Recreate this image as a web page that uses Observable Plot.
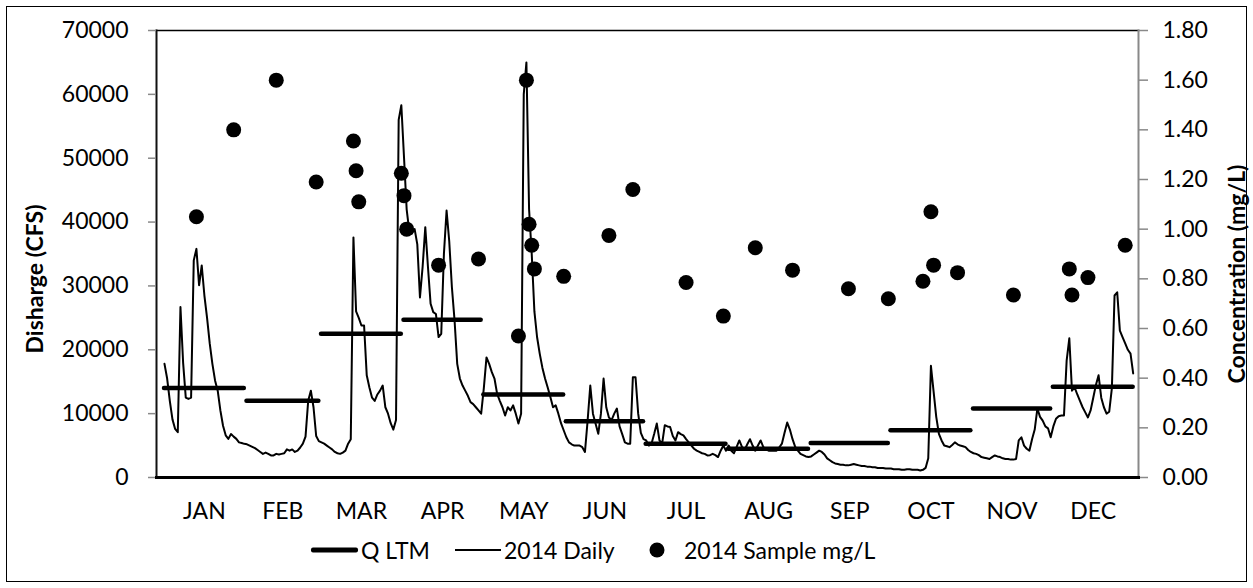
<!DOCTYPE html>
<html>
<head>
<meta charset="utf-8">
<script src="https://cdn.jsdelivr.net/npm/d3@7"></script>
<script src="https://cdn.jsdelivr.net/npm/@observablehq/plot@0.6"></script>
<style>
  html, body { margin: 0; padding: 0; background: #fff; }
  #wrap { position: relative; width: 1253px; height: 588px; overflow: hidden; font-family: Lato, "Open Sans", sans-serif; color: #000; }
  #border { position: absolute; left: 6px; top: 6px; width: 1241px; height: 576px; border: 1.5px solid #000; box-sizing: border-box; }
  #chart { position: absolute; left: 0; top: 0; }
  .ytitle { position: absolute; font-weight: 700; font-size: 23px; white-space: nowrap; transform: translate(-50%, -50%) rotate(-90deg); }
  .leg { position: absolute; font-size: 23px; white-space: nowrap; transform: translateY(-50%); }
  .legline { position: absolute; background: #000; transform: translateY(-50%); }
  .legdot { position: absolute; width: 15px; height: 15px; border-radius: 50%; background: #000; transform: translate(-50%, -50%); }
</style>
</head>
<body>
<div id="wrap">
  <div id="border"></div>
  <div id="chart"></div>
  <div class="ytitle" style="left:34px; top:279px;">Disharge (CFS)</div>
  <div class="ytitle" style="left:1236px; top:274px;">Concentration (mg/L)</div>
  <div class="legline" style="left:311px; top:550px; width:47px; height:5px; border-radius:2px;"></div>
  <div class="leg" style="left:361px; top:550px;">Q LTM</div>
  <div class="legline" style="left:455px; top:550px; width:46px; height:2px;"></div>
  <div class="leg" style="left:504px; top:550px;">2014 Daily</div>
  <div class="legdot" style="left:657px; top:550px;"></div>
  <div class="leg" style="left:684px; top:550px;">2014 Sample mg/L</div>
</div>
<script>
// ---- Data ----
const monthLabels = ["JAN","FEB","MAR","APR","MAY","JUN","JUL","AUG","SEP","OCT","NOV","DEC"];
const monthLengths = [31,28,31,30,31,30,31,31,30,31,30,31];
// Long-term monthly mean discharge (CFS)
const ltmValues = [14000, 12000, 22500, 24700, 13000, 8800, 5300, 4500, 5400, 7400, 10800, 14200];

// 2014 daily discharge (CFS), one array per month
const dailyJan = [17800,15500,12000,9100,7600,7100,26700,18000,12500,12300,12500,34000,35800,30100,33200,28500,25000,21000,17800,15200,13600,10500,8100,6600,6050,6800,6400,6050,5500,5400,5270];
const dailyFeb = [5200,5000,4800,4600,4300,4000,3700,3900,3700,3450,3450,3700,3600,3700,3800,4400,4200,4400,4000,4200,4700,5300,6400,12000,13600,11000,6500,5700];
const dailyMar = [5500,5300,5000,4700,4400,4000,3800,3700,3900,4200,5300,6000,37600,26000,25000,23800,23800,16000,14100,12500,12000,13000,13600,14400,11000,10000,8500,7500,9000,56000,58300];
const dailyApr = [50200,42000,38500,38200,38900,36500,28200,33000,39200,33000,27200,25900,25600,22000,22500,35000,41800,37000,29800,24600,17800,15500,14400,13600,12800,11800,11500,11000,10500,10000];
const dailyMay = [14000,18800,17800,16500,15500,13100,12000,11000,9700,11000,10500,11300,10000,8450,10000,60000,65000,42000,35000,26000,22000,19400,17200,15500,14100,12600,11000,11300,10000,8500,7400];
const dailyJun = [6300,5500,5200,5000,5000,5000,4750,4000,8900,14400,10000,8400,6840,10000,15500,11000,9400,9000,10000,10800,8000,6800,5500,5300,5300,15700,15700,10000,7000,6000];
const dailyJul = [5800,5000,5300,6800,8450,5800,5300,8200,8000,7900,6500,5800,7100,6800,6600,6000,5500,5000,4500,4200,4000,3800,3700,3450,3500,3700,3500,3200,4200,5000,4200];
const dailyAug = [5000,4200,3800,4800,5800,4800,4300,5200,6000,5000,4200,5000,5800,4800,4400,4200,4200,4200,4200,4700,5300,7000,8600,7500,6000,4800,4200,3700,3500,3300,3200];
const dailySep = [3300,3600,3900,4200,4000,3600,3000,2700,2400,2200,2100,2000,2000,1900,1900,2000,2100,2000,1900,1800,1800,1700,1700,1600,1600,1500,1500,1500,1400,1400];
const dailyOct = [1400,1300,1300,1300,1200,1200,1300,1300,1200,1200,1200,1100,1200,1500,3000,17500,13500,9500,6840,5800,5000,4900,4750,5100,5500,5200,5000,4900,4750,4300,4000];
const dailyNov = [3800,3700,3500,3200,3100,3000,2900,3200,3450,3300,3200,3000,2900,2900,2800,2800,2900,5800,6300,5000,4500,4200,6000,7500,10800,9500,8900,8000,7700,6300];
const dailyDec = [8000,9200,9600,9700,9700,18300,21800,13600,14100,13000,12000,11000,10200,9400,10500,12500,14500,16000,12500,11000,10000,10300,14000,28500,29000,23000,22000,21000,20000,19400,16300];

// 2014 samples: day of year and concentration (mg/L)
const sampleDays = [13,27,43,58,72,73,74,90,91,92,104,119,134,137,138,139,140,151,168,177,197,211,223,237,258,273,286,289,290,299,320,341,342,348,362];
const sampleConc = [1.05,1.40,1.60,1.19,1.355,1.235,1.11,1.225,1.135,1.00,0.855,0.88,0.57,1.60,1.02,0.935,0.84,0.81,0.975,1.16,0.785,0.65,0.925,0.835,0.76,0.72,0.79,1.07,0.855,0.825,0.735,0.84,0.735,0.805,0.935];

// Axis ticks
const leftTicks = [0,10000,20000,30000,40000,50000,60000,70000];
const rightTicks = [0,0.2,0.4,0.6,0.8,1.0,1.2,1.4,1.6,1.8];

// ---- Build tables ----
const qMax = 70000, cMax = 1.8, k = qMax / cMax;
const dailyAll = [dailyJan,dailyFeb,dailyMar,dailyApr,dailyMay,dailyJun,dailyJul,dailyAug,dailySep,dailyOct,dailyNov,dailyDec].flat();
const daily = dailyAll.map((q, i) => ({day: i + 1, q}));
let s = 1;
const months = monthLabels.map((m, i) => {
  const start = s, end = s + monthLengths[i] - 1;
  s = end + 1;
  return {m, start, end, mid: (start + end) / 2, q: ltmValues[i]};
});
const labelByMid = new Map(months.map(d => [d.mid, d.m]));
const samples = sampleDays.map((d, i) => ({day: d, c: sampleConc[i]}));

const chart = Plot.plot({
  width: 1253,
  height: 530,
  marginLeft: 156,
  marginRight: 115,
  marginTop: 30,
  marginBottom: 53,
  x: {domain: [-2, 367], label: null},
  y: {domain: [0, qMax], label: null},
  style: {fontFamily: "Lato, 'Open Sans', sans-serif", fontSize: "23px", background: "transparent", color: "#000", overflow: "visible"},
  marks: [
    Plot.frame({anchor: "top", stroke: "#000", strokeWidth: 1.5}),
    Plot.frame({anchor: "right", stroke: "#898989", strokeWidth: 2}),
    Plot.frame({anchor: "left", stroke: "#111", strokeWidth: 2}),
    Plot.axisY({ticks: leftTicks, tickSize: 8, tickPadding: 20, stroke: "#898989", strokeWidth: 1.5, tickFormat: d => String(d), label: null}),
    Plot.axisY({anchor: "right", ticks: rightTicks.map(c => c * k), tickSize: 9, tickPadding: 15, stroke: "#898989", strokeWidth: 1.5, tickFormat: d => (d / k).toFixed(2), label: null}),
    Plot.axisX({ticks: months.map(d => d.mid), tickSize: 0, tickPadding: 25, tickFormat: d => labelByMid.get(d), label: null}),
    Plot.ruleY(months, {x1: "start", x2: "end", y: "q", stroke: "#000", strokeWidth: 4.5, strokeLinecap: "round"}),
    Plot.line(daily, {x: "day", y: "q", stroke: "#000", strokeWidth: 2, strokeLinejoin: "round"}),
    Plot.dot(samples, {x: "day", y: d => d.c * k, r: 7.5, fill: "#000", stroke: "none"}),
    Plot.frame({anchor: "bottom", stroke: "#000", strokeWidth: 3})
  ]
});
document.getElementById("chart").appendChild(chart);
</script>
</body>
</html>
